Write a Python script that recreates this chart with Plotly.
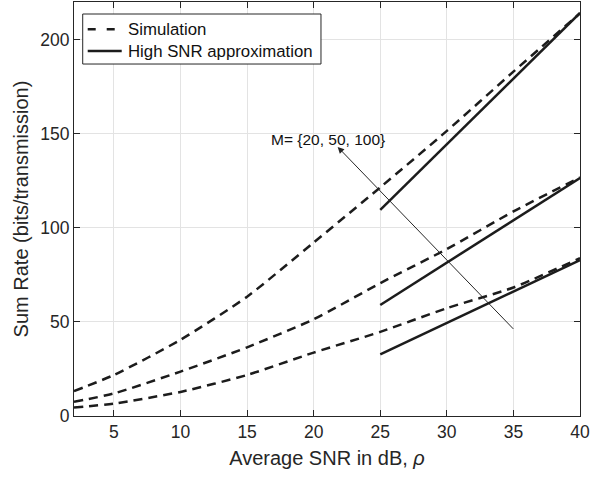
import plotly.graph_objects as go

# ---- data ----
snr_sim = [2, 5, 10, 15, 20, 25, 30, 35, 40]
sim_m100 = [13.2, 21.8, 40.5, 63.4, 92.2, 121.5, 151.5, 183.0, 214.0]
sim_m50 = [7.5, 12.0, 23.6, 36.5, 51.4, 70.6, 88.7, 108.7, 126.8]
sim_m20 = [4.5, 6.6, 12.8, 21.8, 33.7, 44.7, 57.3, 68.3, 83.9]

snr_approx = [25, 40]
approx_m100 = [109.5, 214.2]
approx_m50 = [59.0, 126.5]
approx_m20 = [32.8, 82.8]

x_ticks = [5, 10, 15, 20, 25, 30, 35, 40]
y_ticks = [0, 50, 100, 150, 200]

legend_labels = ["Simulation", "High SNR approximation"]
annot_text = "M= {20, 50, 100}"
arrow_head = (21.8, 143.0)
arrow_tail = (35.1, 45.5)
text_pos = (21.06, 146.9)

FONT = "Liberation Sans, Arial, Helvetica, sans-serif"
INK = "#262626"
LINE = "#1c1c1c"
SIM_DASH = "9px,6px"

fig = go.Figure()

sims = [sim_m100, sim_m50, sim_m20]
apps = [approx_m100, approx_m50, approx_m20]

for ys in sims:
    fig.add_trace(go.Scatter(
        x=snr_sim, y=ys, mode="lines", name=legend_labels[0],
        legendgroup="sim", showlegend=False,
        line=dict(color=LINE, width=2.5, dash=SIM_DASH, shape="spline", smoothing=0.6),
    ))
for ys in apps:
    fig.add_trace(go.Scatter(
        x=snr_approx, y=ys, mode="lines", name=legend_labels[1],
        legendgroup="app", showlegend=False,
        line=dict(color=LINE, width=2.5),
    ))

# arrow + label
fig.add_annotation(
    x=arrow_head[0], y=arrow_head[1], ax=arrow_tail[0], ay=arrow_tail[1],
    xref="x", yref="y", axref="x", ayref="y",
    showarrow=True, arrowhead=2, arrowsize=1.3, arrowwidth=1, arrowcolor=INK,
    text="",
)
fig.add_annotation(
    x=text_pos[0], y=text_pos[1], xref="x", yref="y",
    text=annot_text, showarrow=False,
    font=dict(family=FONT, size=15.5, color="#111111"),
)

# legend box (MATLAB-style, drawn in plot-domain coordinates)
LX0, LX1, LY0, LY1 = 0.0172, 0.4881, 0.8502, 0.9710
SX0, SX1, TX = 0.0271, 0.0943, 0.1022
ROWS = [0.9341, 0.8816]
fig.add_shape(type="rect", xref="x domain", yref="y domain",
              x0=LX0, x1=LX1, y0=LY0, y1=LY1,
              line=dict(color=INK, width=1), fillcolor="white", layer="above")
fig.add_shape(type="line", xref="x domain", yref="y domain",
              x0=SX0, x1=SX1, y0=ROWS[0], y1=ROWS[0],
              line=dict(color=LINE, width=2.5, dash="8px,11px"), layer="above")
fig.add_shape(type="line", xref="x domain", yref="y domain",
              x0=SX0, x1=SX1, y0=ROWS[1], y1=ROWS[1],
              line=dict(color=LINE, width=2.5), layer="above")
for label, ry in zip(legend_labels, ROWS):
    fig.add_annotation(x=TX, y=ry, xref="x domain", yref="y domain",
                       xanchor="left", yanchor="middle", showarrow=False,
                       text=label, font=dict(family=FONT, size=16.8, color="#111111"))

axis_common = dict(
    showgrid=True, gridcolor="#e3e3e3", gridwidth=1,
    showline=True, linecolor=INK, linewidth=1, mirror="ticks",
    ticks="inside", ticklen=6, tickcolor=INK, tickwidth=1,
    tickfont=dict(family=FONT, size=17.5, color=INK),
    zeroline=False,
)

fig.update_layout(
    width=610, height=478,
    margin=dict(l=74, r=30, t=2, b=62),
    paper_bgcolor="white", plot_bgcolor="white",
    font=dict(family=FONT, color=INK),
    xaxis=dict(range=[2, 40], tickvals=x_ticks,
               title=dict(text="Average SNR in dB, <i>ρ</i>",
                          font=dict(family=FONT, size=20, color=INK), standoff=9),
               **axis_common),
    yaxis=dict(range=[0, 220], tickvals=y_ticks,
               title=dict(text="Sum Rate (bits/transmission)",
                          font=dict(family=FONT, size=20, color=INK), standoff=6),
               **axis_common),
    showlegend=False,
)

fig.write_html(
    "out.html",
    config={"displayModeBar": False},
    post_script="document.body.style.margin='0px';document.body.style.overflow='hidden';",
)
